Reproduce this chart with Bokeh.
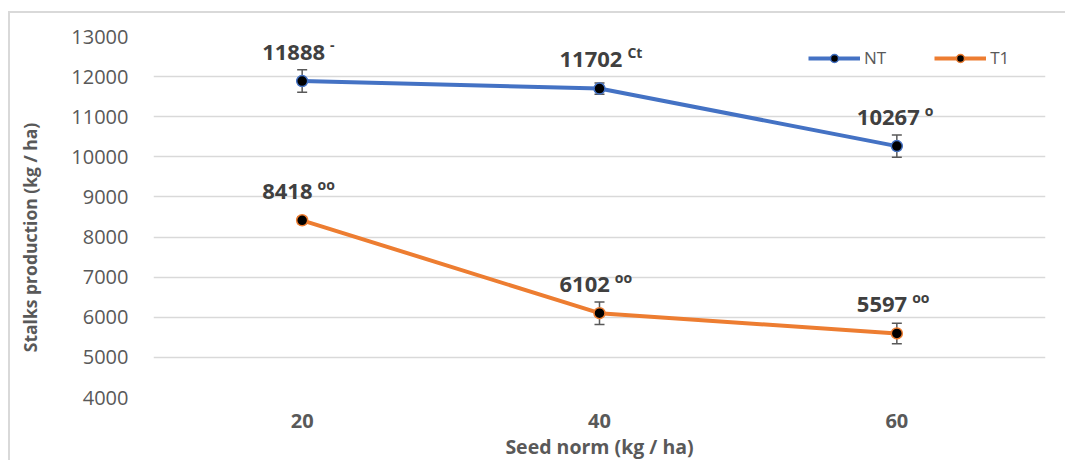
from bokeh.plotting import figure
from bokeh.models import (ColumnDataSource, FactorRange, FixedTicker, Whisker,
                          TeeHead, Legend, LegendItem)
from bokeh.core.properties import value
from bokeh.embed import file_html
from bokeh.resources import INLINE

# ---- data ----
seed_norm = ["20", "40", "60"]
nt_values = [11888, 11702, 10267]
t1_values = [8418, 6102, 5597]
nt_err = [280, 140, 280]
t1_err = [80, 280, 255]
nt_marks = ["-", "Ct", "o"]
t1_marks = ["oo", "oo", "oo"]
y_ticks = [4000, 5000, 6000, 7000, 8000, 9000, 10000, 11000, 12000, 13000]

NT_COLOR = "#4472C4"
T1_COLOR = "#ED7D31"
FONT = "Open Sans"

p = figure(x_range=FactorRange(factors=seed_norm, range_padding=0),
           y_range=(4000, 13000),
           width=1057, height=449,
           min_border_left=143, min_border_right=22,
           min_border_top=23, min_border_bottom=65,
           output_backend="svg", toolbar_location=None)
p.styles = {"border-top": "2px solid #d9d9d9", "border-left": "2px solid #d9d9d9",
            "margin-top": "11px", "margin-left": "8px"}
p.outline_line_color = None
p.background_fill_color = "white"
p.border_fill_color = "white"

# grid
p.xgrid.grid_line_color = None
p.ygrid.grid_line_color = "#d9d9d9"
p.ygrid.grid_line_width = 1.5
p.yaxis.ticker = FixedTicker(ticks=y_ticks)

# y axis
p.yaxis.axis_line_color = None
p.yaxis.major_tick_line_color = None
p.yaxis.minor_tick_line_color = None
p.yaxis.major_tick_out = 0
p.yaxis.major_label_standoff = 25
p.yaxis.major_label_text_font = FONT
p.yaxis.major_label_text_font_size = "20px"
p.yaxis.major_label_text_color = "#595959"
p.yaxis.axis_label = "Stalks production (kg / ha)" + "\u00a0" * 9
p.yaxis.axis_label_text_font = FONT
p.yaxis.axis_label_text_font_size = "17.5px"
p.yaxis.axis_label_text_font_style = "bold"
p.yaxis.axis_label_text_color = "#595959"
p.yaxis.axis_label_standoff = 26

# x axis
p.xaxis.axis_line_color = None
p.xaxis.major_tick_line_color = None
p.xaxis.minor_tick_line_color = None
p.xaxis.major_tick_out = 0
p.xaxis.major_label_standoff = 16
p.xaxis.major_label_text_font = FONT
p.xaxis.major_label_text_font_size = "20px"
p.xaxis.major_label_text_font_style = "bold"
p.xaxis.major_label_text_color = "#595959"
p.xaxis.axis_label = "Seed norm (kg / ha)"
p.xaxis.axis_label_text_font = FONT
p.xaxis.axis_label_text_font_size = "19.5px"
p.xaxis.axis_label_text_font_style = "bold"
p.xaxis.axis_label_text_color = "#595959"
p.xaxis.axis_label_standoff = 2

legend_items = []
for name, vals, errs, marks, color in [("NT", nt_values, nt_err, nt_marks, NT_COLOR),
                                       ("T1", t1_values, t1_err, t1_marks, T1_COLOR)]:
    num_txt = [str(v) for v in vals]
    src = ColumnDataSource(dict(
        x=seed_norm, y=vals,
        upper=[v + e for v, e in zip(vals, errs)],
        lower=[v - e for v, e in zip(vals, errs)],
        num=num_txt, mark=marks,
        mark_dx=[-40 + len(t) * 0.572 * 22 + 5 for t in num_txt],
    ))
    w = Whisker(source=src, base="x", upper="upper", lower="lower",
                dimension="height", line_color="#595959", line_width=1.5,
                upper_head=TeeHead(size=10, line_color="#595959", line_width=1.5),
                lower_head=TeeHead(size=10, line_color="#595959", line_width=1.5),
                level="underlay")
    p.add_layout(w)
    ln = p.line("x", "y", source=src, line_color=color, line_width=4)
    pts = p.scatter("x", "y", source=src, size=11, fill_color="black",
                    line_color=color, line_width=1.5)
    p.text("x", "y", text="num", source=src, x_offset=-40, y_offset=-29,
           text_align="left", text_baseline="alphabetic",
           text_font=value(FONT), text_font_size="22px", text_font_style="bold",
           text_color="#404040")
    p.text("x", "y", text="mark", source=src, x_offset="mark_dx", y_offset=-36,
           text_align="left", text_baseline="alphabetic",
           text_font=value(FONT), text_font_size="14px", text_font_style="bold",
           text_color="#404040")
    legend_items.append(LegendItem(label=name, renderers=[ln, pts]))

legend = Legend(items=legend_items, orientation="horizontal",
                location=(655, 328), padding=0, margin=0, spacing=48,
                glyph_width=52, glyph_height=20, label_standoff=4,
                label_text_font=FONT, label_text_font_size="17px",
                label_text_color="#595959",
                background_fill_alpha=0, border_line_color=None)
p.add_layout(legend)

open("out.html", "w").write(file_html(p, INLINE))
